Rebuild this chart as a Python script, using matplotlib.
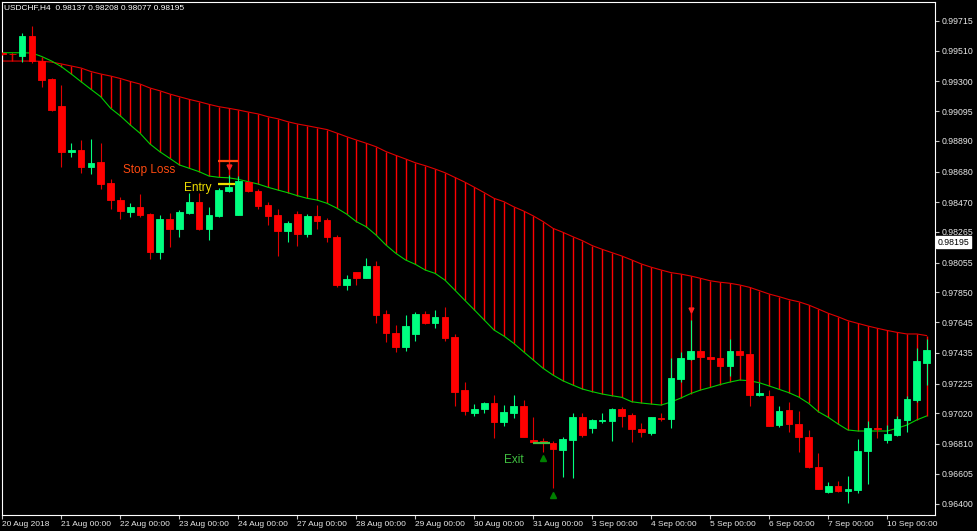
"""
USDCHF H4 candles with a red/green band indicator (MT4 style, black background).
Saves out.png
"""
import numpy as np
import matplotlib
matplotlib.use("Agg")
import matplotlib.pyplot as plt

plt.rcParams['font.family'] = ['Liberation Sans', 'DejaVu Sans']

# ---- data ----
opens = [0.99493, 0.99485, 0.99475, 0.99612, 0.99436, 0.99315, 0.99130, 0.98812, 0.98828, 0.98711,
         0.98745, 0.98601, 0.98484, 0.98404, 0.98438, 0.98386, 0.98130, 0.98352, 0.98283, 0.98395,
         0.98471, 0.98285, 0.98372, 0.98548, 0.98383, 0.98608, 0.98548, 0.98450, 0.98381, 0.98272,
         0.98388, 0.98253, 0.98375, 0.98347, 0.98230, 0.97901, 0.97990, 0.97951, 0.98034, 0.97702,
         0.97574, 0.97478, 0.97567, 0.97702, 0.97640, 0.97679, 0.97542, 0.97178, 0.97025, 0.97048,
         0.97089, 0.96959, 0.97025, 0.97071, 0.96837, 0.96830, 0.96817, 0.96771, 0.96837, 0.96997,
         0.96920, 0.96968, 0.96968, 0.97048, 0.97009, 0.96915, 0.96887, 0.96990, 0.96981, 0.97256,
         0.97393, 0.97448, 0.97409, 0.97398, 0.97347, 0.97448, 0.97428, 0.97146, 0.97139, 0.96940,
         0.97043, 0.96947, 0.96860, 0.96654, 0.96480, 0.96522, 0.96489, 0.96494, 0.96762, 0.96922,
         0.96837, 0.96872, 0.96975, 0.97112, 0.97368]
highs = [0.99500, 0.99493, 0.99631, 0.99679, 0.99466, 0.99325, 0.99274, 0.98876, 0.98896, 0.98903,
         0.98876, 0.98629, 0.98507, 0.98466, 0.98526, 0.98395, 0.98381, 0.98397, 0.98416, 0.98535,
         0.98532, 0.98438, 0.98567, 0.98656, 0.98649, 0.98615, 0.98558, 0.98473, 0.98421, 0.98340,
         0.98409, 0.98386, 0.98450, 0.98361, 0.98244, 0.97970, 0.97992, 0.98088, 0.98066, 0.97730,
         0.97627, 0.97695, 0.97714, 0.97723, 0.97730, 0.97748, 0.97563, 0.97233, 0.97082, 0.97098,
         0.97146, 0.97077, 0.97146, 0.97112, 0.96997, 0.96854, 0.96830, 0.96860, 0.97020, 0.97025,
         0.96984, 0.97025, 0.97059, 0.97066, 0.97023, 0.96956, 0.96997, 0.97020, 0.97398, 0.97439,
         0.97661, 0.97450, 0.97414, 0.97405, 0.97530, 0.97455, 0.97432, 0.97226, 0.97180, 0.97071,
         0.97100, 0.97036, 0.96906, 0.96746, 0.96547, 0.96556, 0.96590, 0.96842, 0.96968, 0.96926,
         0.96940, 0.97002, 0.97139, 0.97471, 0.97528]
lows = [0.99480, 0.99445, 0.99431, 0.99423, 0.99262, 0.99095, 0.98711, 0.98780, 0.98672, 0.98663,
        0.98562, 0.98423, 0.98354, 0.98370, 0.98370, 0.98079, 0.98079, 0.98164, 0.98228, 0.98388,
        0.98279, 0.98210, 0.98370, 0.98541, 0.98381, 0.98539, 0.98421, 0.98313, 0.98100, 0.98198,
        0.98171, 0.98228, 0.98283, 0.98196, 0.97889, 0.97867, 0.97901, 0.97947, 0.97642, 0.97508,
        0.97443, 0.97450, 0.97519, 0.97631, 0.97604, 0.97519, 0.97071, 0.97009, 0.97002, 0.97025,
        0.96854, 0.96935, 0.96990, 0.96856, 0.96819, 0.96757, 0.96510, 0.96585, 0.96579, 0.96860,
        0.96883, 0.96952, 0.96830, 0.96929, 0.96826, 0.96860, 0.96872, 0.96970, 0.96918, 0.97237,
        0.97386, 0.97405, 0.97386, 0.97340, 0.97276, 0.97414, 0.97071, 0.97141, 0.96933, 0.96929,
        0.96894, 0.96757, 0.96643, 0.96501, 0.96476, 0.96483, 0.96407, 0.96476, 0.96535, 0.96849,
        0.96819, 0.96865, 0.96894, 0.97100, 0.97215]
closes = [0.99486, 0.99483, 0.99612, 0.99438, 0.99308, 0.99102, 0.98814, 0.98828, 0.98713, 0.98736,
          0.98596, 0.98484, 0.98409, 0.98438, 0.98381, 0.98130, 0.98354, 0.98285, 0.98402, 0.98473,
          0.98285, 0.98381, 0.98553, 0.98572, 0.98615, 0.98546, 0.98443, 0.98375, 0.98272, 0.98327,
          0.98253, 0.98377, 0.98342, 0.98228, 0.97901, 0.97942, 0.97951, 0.98034, 0.97693, 0.97570,
          0.97478, 0.97620, 0.97702, 0.97640, 0.97679, 0.97539, 0.97169, 0.97038, 0.97050, 0.97091,
          0.96961, 0.97027, 0.97071, 0.96860, 0.96824, 0.96817, 0.96773, 0.96842, 0.96997, 0.96870,
          0.96972, 0.96975, 0.97050, 0.97004, 0.96913, 0.96894, 0.96993, 0.96981, 0.97261, 0.97398,
          0.97448, 0.97409, 0.97393, 0.97347, 0.97448, 0.97421, 0.97146, 0.97160, 0.96935, 0.97036,
          0.96947, 0.96856, 0.96654, 0.96501, 0.96522, 0.96487, 0.96501, 0.96762, 0.96922, 0.96913,
          0.96880, 0.96981, 0.97119, 0.97380, 0.97455]

# indicator band: red (upper) and green (lower) buffers
band_upper = [0.99438, 0.99438, 0.99438, 0.99438, 0.99436, 0.99431, 0.99418, 0.99404, 0.99390, 0.99366,
              0.99349, 0.99335, 0.99318, 0.99298, 0.99280, 0.99253, 0.99234, 0.99212, 0.99193, 0.99175,
              0.99159, 0.99141, 0.99125, 0.99114, 0.99102, 0.99088, 0.99075, 0.99056, 0.99042, 0.99022,
              0.99006, 0.98994, 0.98981, 0.98968, 0.98944, 0.98919, 0.98896, 0.98874, 0.98850, 0.98817,
              0.98791, 0.98766, 0.98740, 0.98720, 0.98697, 0.98672, 0.98640, 0.98608, 0.98572, 0.98535,
              0.98496, 0.98473, 0.98438, 0.98409, 0.98375, 0.98336, 0.98290, 0.98263, 0.98233, 0.98205,
              0.98171, 0.98146, 0.98123, 0.98100, 0.98073, 0.98045, 0.98023, 0.98004, 0.97986, 0.97976,
              0.97963, 0.97947, 0.97930, 0.97920, 0.97913, 0.97901, 0.97885, 0.97862, 0.97839, 0.97821,
              0.97801, 0.97786, 0.97764, 0.97736, 0.97707, 0.97683, 0.97656, 0.97638, 0.97620, 0.97604,
              0.97589, 0.97576, 0.97565, 0.97565, 0.97554]
band_lower = [0.99495, 0.99495, 0.99495, 0.99493, 0.99469, 0.99438, 0.99399, 0.99349, 0.99296, 0.99244,
              0.99193, 0.99114, 0.99061, 0.98999, 0.98942, 0.98869, 0.98816, 0.98771, 0.98725, 0.98702,
              0.98679, 0.98649, 0.98640, 0.98637, 0.98626, 0.98610, 0.98594, 0.98572, 0.98553, 0.98535,
              0.98514, 0.98496, 0.98484, 0.98462, 0.98429, 0.98388, 0.98336, 0.98301, 0.98244, 0.98176,
              0.98119, 0.98073, 0.98043, 0.98004, 0.97981, 0.97935, 0.97867, 0.97798, 0.97730, 0.97661,
              0.97592, 0.97551, 0.97501, 0.97443, 0.97386, 0.97329, 0.97283, 0.97244, 0.97215, 0.97187,
              0.97169, 0.97153, 0.97141, 0.97130, 0.97100, 0.97091, 0.97084, 0.97077, 0.97098, 0.97125,
              0.97156, 0.97180, 0.97198, 0.97218, 0.97235, 0.97249, 0.97244, 0.97230, 0.97208, 0.97185,
              0.97162, 0.97132, 0.97089, 0.97031, 0.96993, 0.96947, 0.96906, 0.96899, 0.96899, 0.96899,
              0.96899, 0.96918, 0.96940, 0.96975, 0.97002]

price_ticks = [0.99715, 0.99510, 0.99300, 0.99095, 0.98890, 0.98680, 0.98470, 0.98265, 0.98055,
               0.97850, 0.97645, 0.97435, 0.97225, 0.97020, 0.96810, 0.96605, 0.96400]
date_ticks = [0, 6, 12, 18, 24, 30, 36, 42, 48, 54, 60, 66, 72, 78, 84, 90]
date_labels = ["20 Aug 2018", "21 Aug 00:00", "22 Aug 00:00", "23 Aug 00:00", "24 Aug 00:00",
               "27 Aug 00:00", "28 Aug 00:00", "29 Aug 00:00", "30 Aug 00:00", "31 Aug 00:00",
               "3 Sep 00:00", "4 Sep 00:00", "5 Sep 00:00", "6 Sep 00:00", "7 Sep 00:00",
               "10 Sep 00:00"]

header = "USDCHF,H4  0.98137 0.98208 0.98077 0.98195"
last_price = 0.98195

# trade markers
stop_loss = 0.98754
entry = 0.98592
exit_price = 0.96815

BULL = '#00ff80'
BEAR = '#ff0000'

o = np.array(opens)
h = np.array(highs)
l = np.array(lows)
c = np.array(closes)
x = np.arange(len(o))
up = c >= o

fig = plt.figure(figsize=(9.77, 5.31), dpi=100, facecolor='black')
ax = fig.add_axes([1.5 / 977, 16 / 531, 934 / 977, 513.5 / 531])
ax.set_facecolor('black')

# band histogram + its two lines
ax.vlines(x, band_lower, band_upper, colors='#ff0000', linewidth=1.0, zorder=1)
ax.plot(x, band_upper, color='#e00000', lw=0.8, zorder=2)
ax.plot(x, band_lower, color='#00d000', lw=0.8, zorder=2)

# candles
wick_cols = np.where(up, BULL, '#e00000')
body_cols = np.where(up, BULL, BEAR)
ax.vlines(x, l, h, colors=wick_cols, linewidth=0.8, zorder=3)
ax.bar(x, np.abs(c - o), bottom=np.minimum(o, c), width=0.68, color=body_cols,
       edgecolor=body_cols, linewidth=0.6, zorder=4)

# trade objects
ax.hlines(stop_loss, 21.9, 23.95, colors='#ff4a10', linewidth=1.6, zorder=5)
ax.hlines(entry, 21.9, 23.7, colors='#f0e000', linewidth=1.6, zorder=5)
ax.hlines(exit_price, 53.97, 55.7, colors='#40c040', linewidth=1.6, zorder=5)
ax.plot([23, 70], [0.98713, 0.97730], linestyle='none', marker='v', ms=3.5,
        color='#ff2020', zorder=5)
ax.plot([55, 56], [0.96717, 0.96460], linestyle='none', marker='^', ms=4,
        color='#008000', zorder=5)
ax.text(12.26, 0.98690, "Stop Loss", color='#ff4a10', fontsize=8.5, va='center', ha='left')
ax.text(18.5, 0.98567, "Entry", color='#f0e000', fontsize=8.5, va='center', ha='left')
ax.text(50.97, 0.96700, "Exit", color='#40c040', fontsize=8.5, va='center', ha='left')

# axes look
ax.set_xlim(-0.1, 94.91)
ax.set_ylim(0.963226, 0.998467)
for sp in ax.spines.values():
    sp.set_color('white')
    sp.set_linewidth(0.8)

ax.yaxis.tick_right()
ax.set_yticks(price_ticks)
ax.set_yticklabels([f"{v:.5f}" for v in price_ticks])
ax.tick_params(axis='y', colors='#c8c8c8', labelcolor='#e8e8e8', length=3, width=0.8,
               pad=1.5, labelsize=6.3)
ax.set_xticks(date_ticks)
ax.set_xticklabels(date_labels)
ax.tick_params(axis='x', colors='#c8c8c8', labelcolor='#e8e8e8', length=3, width=0.8,
               pad=1.5, labelsize=6.0)
for lab in ax.get_xticklabels():
    lab.set_horizontalalignment('left')

ax.text(1 + 2 / 934, last_price, f"{last_price:.5f}", transform=ax.get_yaxis_transform(),
        fontsize=6.3, color='black', va='center', ha='left',
        bbox=dict(boxstyle='square,pad=0.15', facecolor='white', edgecolor='white'))

fig.text(4 / 977, 1 - 7.5 / 531, header, color='white', fontsize=6.0, va='center', ha='left')

fig.savefig("out.png", dpi=100, facecolor='black')
